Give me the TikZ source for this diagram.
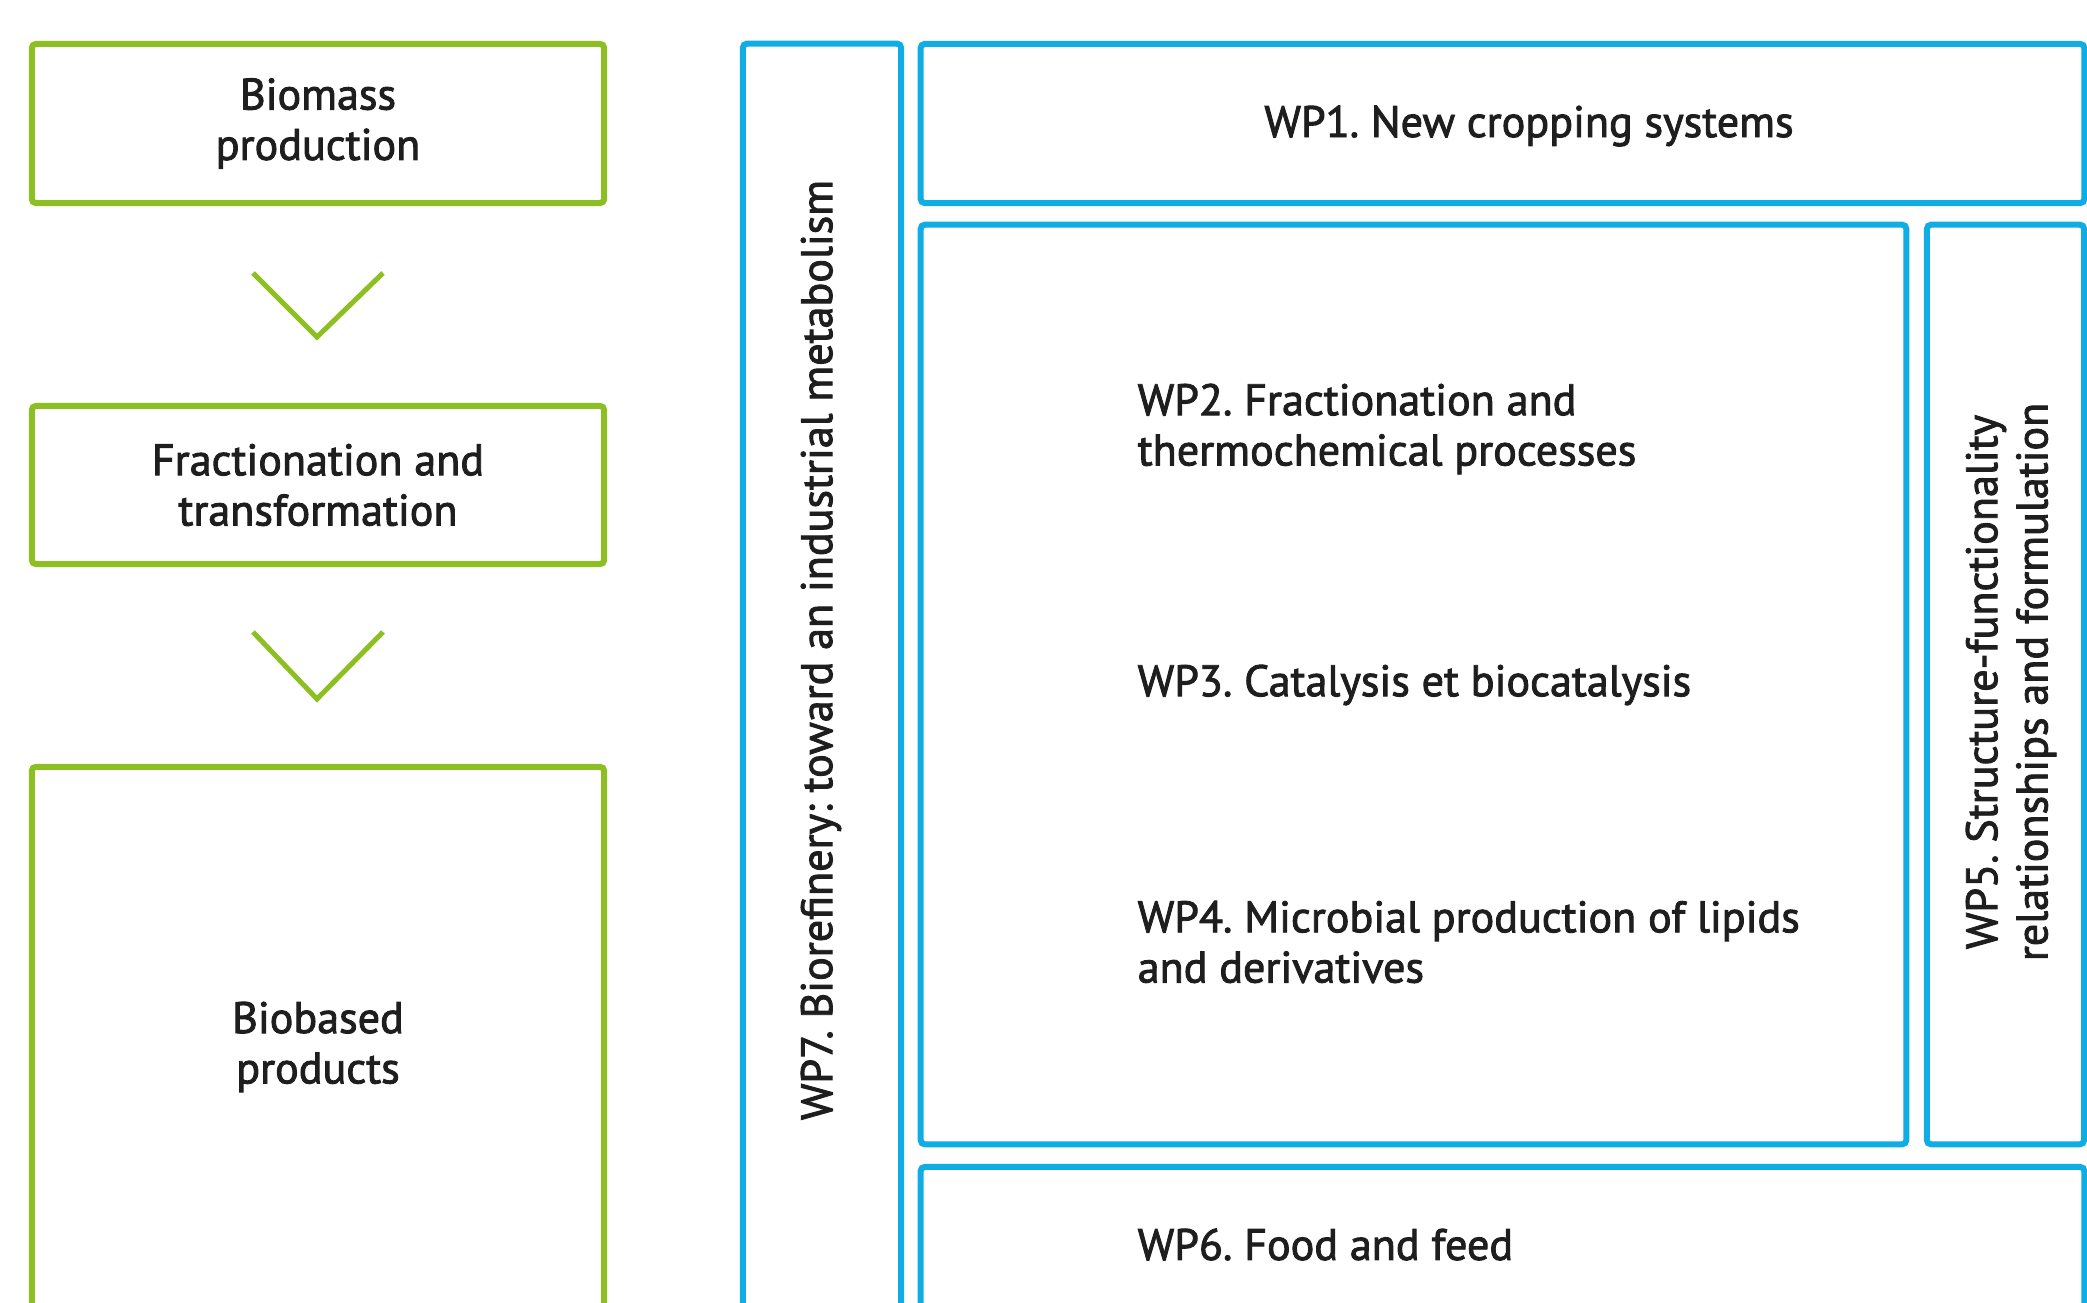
\documentclass[tikz,border=0pt]{standalone}
\usepackage{fontspec}
\setmainfont{PT Sans}[FakeBold=2]

\begin{document}
\frenchspacing
\begin{tikzpicture}[x=0.01cm,y=-0.01cm,
  flowbox/.style={shape=rectangle,draw=flow_green,line width=0.06cm,rounded corners=0.04cm,align=center,text=wp_text,font=\fontsize{12.55}{14.3}\selectfont},
  wpbox/.style={shape=rectangle,draw=wp_blue,line width=0.06cm,rounded corners=0.04cm},
  wplabel/.style={inner sep=0pt,text=wp_text,font=\fontsize{12.55}{14.3}\selectfont},
  chevron/.style={draw=flow_green,line width=0.05cm}]
\definecolor{flow_green}{RGB}{140,192,34}
\definecolor{wp_blue}{RGB}{16,172,228}
\definecolor{wp_text}{RGB}{30,30,30}
\useasboundingbox (0,0) rectangle (2087,1303);
\clip (0,0) rectangle (2087,1303);

% left column: the chain
\node[flowbox,minimum width=5.72cm,minimum height=1.59cm] (biomass) at (318,123.5) {Biomass\\production};
\node[flowbox,minimum width=5.72cm,minimum height=1.58cm] (fraction) at (318,485) {Fractionation and\\transformation};
\node[flowbox,minimum width=5.72cm,minimum height=5.6cm] (products) at (318,1047) {Biobased\\products};
\draw[chevron] (253,273) -- (317,337) -- (383,273);
\draw[chevron] (253,632) -- (317,699) -- (383,632);

% right part: work packages
\node[wpbox,minimum width=1.58cm,minimum height=12.83cm] (wp7) at (822,685.5) {};
\node[wplabel,rotate=90] (wp7label) at (821,650) {WP7. Biorefinery: toward an industrial metabolism};
\node[wpbox,minimum width=11.63cm,minimum height=1.59cm] (wp1) at (1502.5,123.5) {};
\node[wplabel] (wp1label) at (1529,126) {WP1. New cropping systems};
\node[wpbox,minimum width=9.85cm,minimum height=9.19cm] (wp24) at (1413.5,684.5) {};
\node[wplabel,anchor=west,align=left] (wp2label) at (1137,429) {WP2. Fractionation and\\thermochemical processes};
\node[wplabel,anchor=west,align=left] (wp3label) at (1137,685) {WP3. Catalysis et biocatalysis};
\node[wplabel,anchor=west,align=left] (wp4label) at (1137,942) {WP4. Microbial production of lipids\\and derivatives};
\node[wpbox,minimum width=1.57cm,minimum height=9.19cm] (wp5) at (2005.5,684.5) {};
\node[wplabel,rotate=90,align=center] (wp5label) at (2011,682) {WP5. Structure-functionality\\relationships and formulation};
\node[wpbox,minimum width=11.63cm,minimum height=1.60cm] (wp6) at (1502.5,1247) {};
\node[wplabel,anchor=west] (wp6label) at (1137,1244.5) {WP6. Food and feed};
\end{tikzpicture}
\end{document}
